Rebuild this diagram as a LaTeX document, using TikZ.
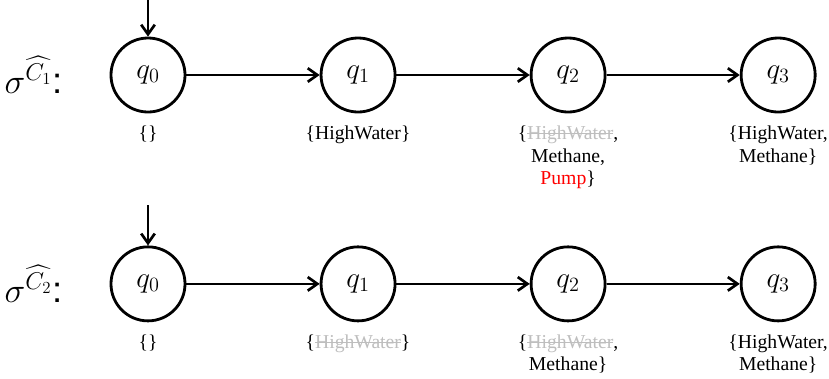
\documentclass[tikz,border=0pt]{standalone}
\usepackage{amsmath}
\usepackage{fontspec}
\setmainfont{Liberation Serif}
\setsansfont{Liberation Sans}
\usetikzlibrary{positioning,arrows.meta}

\definecolor{struck}{RGB}{190,190,190}
\newsavebox\gonebox
\newcommand{\gone}[1]{\begingroup\color{struck}\sbox\gonebox{#1}%
  \rlap{\rule[0.28em]{\wd\gonebox}{0.06em}}\usebox\gonebox\endgroup}

\tikzset{
  state/.style={circle, draw, line width=2pt, minimum size=1.85cm, font=\fontsize{20}{24}\selectfont},
  props/.style={align=center, anchor=north, font=\fontsize{14}{15.8}\selectfont, inner sep=1pt},
  run/.style={font=\fontsize{26}{30}\selectfont, inner sep=0pt}
}

\begin{document}
\begin{tikzpicture}[x=0.025cm, y=-0.025cm, node distance=5.25cm,
    every path/.style={line width=1.9pt},
    >={Straight Barb[length=2.4mm, width=3.4mm]}]
  \useasboundingbox (0,0) rectangle (829,378);

  % first run
  \node[state] (10) at (148,75) {$q_0$};
  \node[state, right of=10] (11) {$q_1$};
  \node[state, right of=11] (12) {$q_2$};
  \node[state, right of=12] (13) {$q_3$};
  \node[run, left=1.15cm of 10] (r1) {$\sigma^{\widehat{C_1}}$\textsf{:}};
  \coordinate (s1) at (148,0);

  \draw[->] (s1) -- (10);
  \draw[->] (10) -- (11);
  \draw[->] (11) -- (12);
  \draw[->] (12) -- (13);

  \node[props, below=0.25cm of 10] {\{\}};
  \node[props, below=0.25cm of 11] {\{HighWater\}};
  \node[props, below=0.25cm of 12] {\{\gone{HighWater},\\Methane,\\\textcolor{red}{Pump}\}};
  \node[props, below=0.25cm of 13] {\{HighWater,\\Methane\}};

  % second run
  \node[state, below=3.3cm of 10] (20) {$q_0$};
  \node[state, right of=20] (21) {$q_1$};
  \node[state, right of=21] (22) {$q_2$};
  \node[state, right of=22] (23) {$q_3$};
  \node[run, left=1.15cm of 20] (r2) {$\sigma^{\widehat{C_2}}$\textsf{:}};
  \coordinate[above=1cm of 20.north] (s2);

  \draw[->] (s2) -- (20);
  \draw[->] (20) -- (21);
  \draw[->] (21) -- (22);
  \draw[->] (22) -- (23);

  \node[props, below=0.25cm of 20] {\{\}};
  \node[props, below=0.25cm of 21] {\{\gone{HighWater}\}};
  \node[props, below=0.25cm of 22] {\{\gone{HighWater},\\Methane\}};
  \node[props, below=0.25cm of 23] {\{HighWater,\\Methane\}};
\end{tikzpicture}
\end{document}
